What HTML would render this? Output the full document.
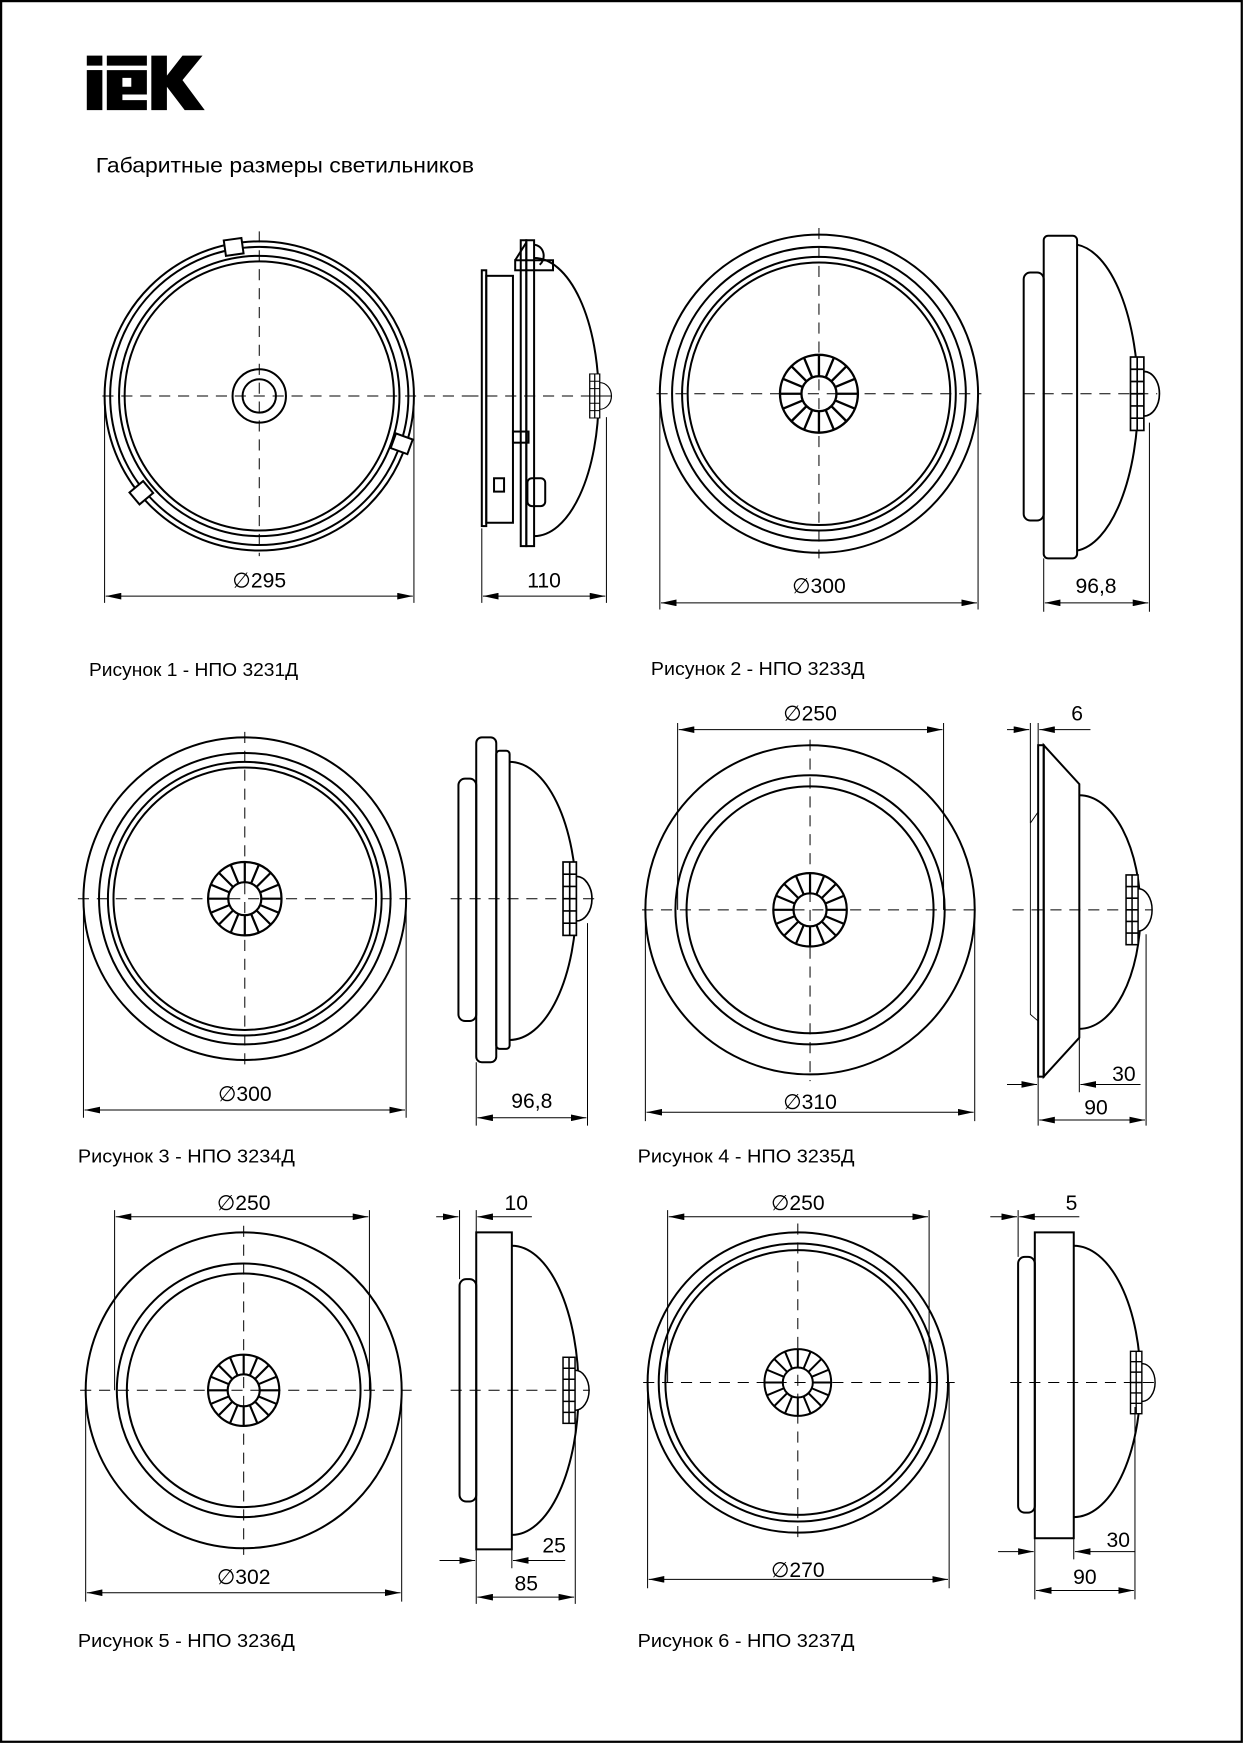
<!DOCTYPE html>
<html><head><meta charset="utf-8"><style>
html,body{margin:0;padding:0;background:#fff;}
svg{display:block;}
text{font-family:"Liberation Sans","DejaVu Sans",sans-serif;fill:#000;}
</style></head><body>
<svg width="1244" height="1744" viewBox="0 0 1118 1568" preserveAspectRatio="none" xmlns="http://www.w3.org/2000/svg">
<defs>
<marker id="a" markerWidth="14" markerHeight="6" refX="14" refY="3" orient="auto" markerUnits="userSpaceOnUse"><path d="M0,0 L14,3 L0,6z" fill="#000"/></marker>
<marker id="b" markerWidth="14" markerHeight="6" refX="0" refY="3" orient="auto" markerUnits="userSpaceOnUse"><path d="M14,0 L0,3 L14,6z" fill="#000"/></marker>
<g id="sens" fill="none" stroke="#000" stroke-width="6">
<circle r="100"/><circle r="45"/>
<path d="M45,0L100,0M41.6,17.2L92.4,38.3M31.8,31.8L70.7,70.7M17.2,41.6L38.3,92.4M0,45L0,100M-17.2,41.6L-38.3,92.4M-31.8,31.8L-70.7,70.7M-41.6,17.2L-92.4,38.3M-45,0L-100,0M-41.6,-17.2L-92.4,-38.3M-31.8,-31.8L-70.7,-70.7M-17.2,-41.6L-38.3,-92.4M0,-45L0,-100M17.2,-41.6L38.3,-92.4M31.8,-31.8L70.7,-70.7M41.6,-17.2L92.4,-38.3"/>
</g>
<g id="side" fill="#fff" stroke="#000" stroke-width="1.5">
<path d="M12,-20 A14,20 0 0 1 12,20" />
<rect x="0" y="-33" width="12" height="66"/>
<path d="M0,-22H12M0,-11H12M0,0H12M0,11H12M0,22H12M6,-33V33" fill="none"/>
</g>
</defs>
<rect x="1" y="1" width="1115" height="1565" fill="none" stroke="#000" stroke-width="2"/>
<g fill="#000">
<rect x="78" y="50" width="14" height="9"/><rect x="78" y="63" width="14" height="36"/>
<path d="M96,63 H132 V85 H110 V90 H132 V99 H96 Z M110,70 H118 V78 H110Z" fill-rule="evenodd"/>
<rect x="96" y="50" width="36" height="9"/>
<path d="M136,50 H150 V68 L164,50 H182 L164,72 L184,99 H166 L150,78 V99 H136Z"/>
</g>
<text x="86" y="155" font-size="19" textLength="340" lengthAdjust="spacingAndGlyphs">Габаритные размеры светильников</text>

<g fill="none" stroke="#000" stroke-width="1.8">
<circle cx="233" cy="356" r="139"/><circle cx="233" cy="356" r="134"/><circle cx="233" cy="356" r="126"/><circle cx="233" cy="356" r="121"/>
<circle cx="233" cy="356" r="24"/><circle cx="233" cy="356" r="15"/>
<rect x="202" y="215" width="16" height="14" fill="#fff" transform="rotate(-8 210 222)"/>
<rect x="353" y="392" width="16" height="14" fill="#fff" transform="rotate(20 361 399)"/>
<rect x="119" y="436" width="16" height="14" fill="#fff" transform="rotate(-40 127 443)"/>
<rect x="433" y="243" width="4" height="230"/>
<rect x="437" y="248" width="24" height="222"/>
<rect x="463" y="234" width="34" height="9"/>
<path d="M473,218 L463,234 M480,220 A9,10 0 0 1 485,238"/>
<rect x="468" y="216" width="5" height="275"/><rect x="473" y="216" width="7" height="275"/>
<path d="M480,232 A58,125 0 0 1 480,482"/>
<rect x="461" y="388" width="14" height="10"/><rect x="444" y="430" width="9" height="12"/>
<rect x="474" y="430" width="16" height="25" rx="4"/>
<circle cx="736" cy="354" r="143"/><circle cx="736" cy="354" r="132"/><circle cx="736" cy="354" r="123"/><circle cx="736" cy="354" r="118"/>
<rect x="920" y="245" width="18" height="223" rx="6"/>
<rect x="938" y="212" width="30" height="290" rx="4"/>
<path d="M968,220 A60,138 0 0 1 968,495"/>
<circle cx="220" cy="808" r="145"/><circle cx="220" cy="808" r="131"/><circle cx="220" cy="808" r="123"/><circle cx="220" cy="808" r="118"/>
<rect x="412" y="700" width="16" height="218" rx="6"/>
<rect x="428" y="663" width="18" height="292" rx="5"/>
<rect x="446" y="675" width="12" height="268" rx="3"/>
<path d="M458,685 A60,125 0 0 1 458,935"/>
<circle cx="728" cy="818" r="148"/><circle cx="728" cy="818" r="121"/><circle cx="728" cy="818" r="111"/>
<path d="M933,730 L926,740 V912 L933,918" stroke-width="0.8"/>
<rect x="933" y="670" width="5" height="298"/>
<path d="M938,670 L970,705 V933 L938,968 Z"/>
<path d="M970,715 A55,105 0 0 1 970,925"/>
<circle cx="219" cy="1250" r="142"/><circle cx="219" cy="1250" r="114"/><circle cx="219" cy="1250" r="105"/>
<rect x="413" y="1150" width="15" height="200" rx="6"/>
<rect x="428" y="1108" width="32" height="285"/>
<path d="M460,1120 A60,130 0 0 1 460,1380"/>
<circle cx="717" cy="1243" r="135"/><circle cx="717" cy="1243" r="125"/><circle cx="717" cy="1243" r="119"/>
<rect x="915" y="1130" width="15" height="230" rx="6"/>
<rect x="930" y="1108" width="35" height="275"/>
<path d="M965,1120 A60,122 0 0 1 965,1364"/>
</g>
<use href="#sens" transform="translate(736,354) scale(0.35)"/>
<use href="#sens" transform="translate(220,808) scale(0.33)"/>
<use href="#sens" transform="translate(728,818) scale(0.33)"/>
<use href="#sens" transform="translate(219,1250) scale(0.32)"/>
<use href="#sens" transform="translate(717,1243) scale(0.30)"/>
<use href="#side" transform="translate(530,356) scale(0.75 0.6)"/>
<use href="#side" transform="translate(1016,354)"/>
<use href="#side" transform="translate(506,808)"/>
<use href="#side" transform="translate(1012,818) scale(0.9 0.95)"/>
<use href="#side" transform="translate(506,1250) scale(0.9)"/>
<use href="#side" transform="translate(1016,1243) scale(0.85)"/>

<g stroke="#000" stroke-width="0.9" stroke-dasharray="10,7" fill="none">
<path d="M92,356H425M233,208V500M420,356H552"/>
<path d="M590,354H882M736,205V502M920,354H1040"/>
<path d="M70,808H372M220,658V958M405,808H535"/>
<path d="M577,818H880M728,665V972M910,818H1035"/>
<path d="M72,1250H370M219,1102V1398M405,1250H530"/>
<path d="M578,1243H858M717,1100V1385M908,1243H1040"/>
</g>
<g stroke="#000" stroke-width="0.9" fill="none">
<path d="M94,356V542M372,356V542"/><path d="M95,536H371" marker-start="url(#b)" marker-end="url(#a)"/>
<path d="M433,475V542M545,375V542"/><path d="M434,536H544" marker-start="url(#b)" marker-end="url(#a)"/>
<path d="M593,354V548M879,354V548"/><path d="M594,542H878" marker-start="url(#b)" marker-end="url(#a)"/>
<path d="M938,502V550M1033,380V550"/><path d="M939,542H1032" marker-start="url(#b)" marker-end="url(#a)"/>
<path d="M75,808V1005M365,808V1005"/><path d="M76,998H364" marker-start="url(#b)" marker-end="url(#a)"/>
<path d="M428,955V1012M528,830V1012"/><path d="M429,1005H527" marker-start="url(#b)" marker-end="url(#a)"/>
<path d="M609,650V818M848,650V818"/><path d="M610,656H847" marker-start="url(#b)" marker-end="url(#a)"/>
<path d="M580,818V1008M876,818V1008"/><path d="M581,1000H875" marker-start="url(#b)" marker-end="url(#a)"/>
<path d="M926,650V740M933,650V1012M970,933V982M1030,840V1012"/>
<path d="M905,656H925" marker-end="url(#a)"/><path d="M980,656H934" marker-end="url(#a)"/>
<path d="M905,975H932" marker-end="url(#a)"/><path d="M1025,975H971" marker-end="url(#a)"/>
<path d="M934,1007H1029" marker-start="url(#b)" marker-end="url(#a)"/>
<path d="M103,1088V1250M332,1088V1250"/><path d="M104,1094H331" marker-start="url(#b)" marker-end="url(#a)"/>
<path d="M77,1250V1440M361,1250V1440"/><path d="M78,1432H360" marker-start="url(#b)" marker-end="url(#a)"/>
<path d="M413,1088V1150M428,1088V1442M460,1393V1410M517,1275V1442"/>
<path d="M392,1094H412" marker-end="url(#a)"/><path d="M478,1094H429" marker-end="url(#a)"/>
<path d="M395,1403H427" marker-end="url(#a)"/><path d="M508,1403H461" marker-end="url(#a)"/>
<path d="M429,1436H516" marker-start="url(#b)" marker-end="url(#a)"/>
<path d="M600,1088V1243M835,1088V1243"/><path d="M601,1094H834" marker-start="url(#b)" marker-end="url(#a)"/>
<path d="M582,1243V1428M853,1243V1428"/><path d="M583,1420H852" marker-start="url(#b)" marker-end="url(#a)"/>
<path d="M915,1088V1130M930,1383V1438M965,1383V1402M1020,1265V1438"/>
<path d="M890,1094H914" marker-end="url(#a)"/><path d="M970,1094H916" marker-end="url(#a)"/>
<path d="M897,1395H929" marker-end="url(#a)"/><path d="M1020,1395H966" marker-end="url(#a)"/>
<path d="M931,1430H1019" marker-start="url(#b)" marker-end="url(#a)"/>
</g>
<g font-size="19" text-anchor="middle">
<text x="233" y="528">∅295</text><text x="489" y="528">110</text>
<text x="736" y="533">∅300</text><text x="985" y="533">96,8</text>
<text x="220" y="990">∅300</text><text x="478" y="996">96,8</text>
<text x="728" y="648">∅250</text><text x="728" y="997">∅310</text>
<text x="968" y="648">6</text><text x="1010" y="972">30</text><text x="985" y="1002">90</text>
<text x="219" y="1088">∅250</text><text x="219" y="1424">∅302</text>
<text x="464" y="1088">10</text><text x="498" y="1396">25</text><text x="473" y="1430">85</text>
<text x="717" y="1088">∅250</text><text x="717" y="1418">∅270</text>
<text x="963" y="1088">5</text><text x="1005" y="1391">30</text><text x="975" y="1424">90</text>
</g>
<g font-size="17">
<text x="80" y="608" textLength="188" lengthAdjust="spacingAndGlyphs">Рисунок 1 - НПО 3231Д</text>
<text x="585" y="607" textLength="192" lengthAdjust="spacingAndGlyphs">Рисунок 2 - НПО 3233Д</text>
<text x="70" y="1045" textLength="195" lengthAdjust="spacingAndGlyphs">Рисунок 3 - НПО 3234Д</text>
<text x="573" y="1045" textLength="195" lengthAdjust="spacingAndGlyphs">Рисунок 4 - НПО 3235Д</text>
<text x="70" y="1481" textLength="195" lengthAdjust="spacingAndGlyphs">Рисунок 5 - НПО 3236Д</text>
<text x="573" y="1481" textLength="195" lengthAdjust="spacingAndGlyphs">Рисунок 6 - НПО 3237Д</text>
</g>
</svg>
</body></html>
